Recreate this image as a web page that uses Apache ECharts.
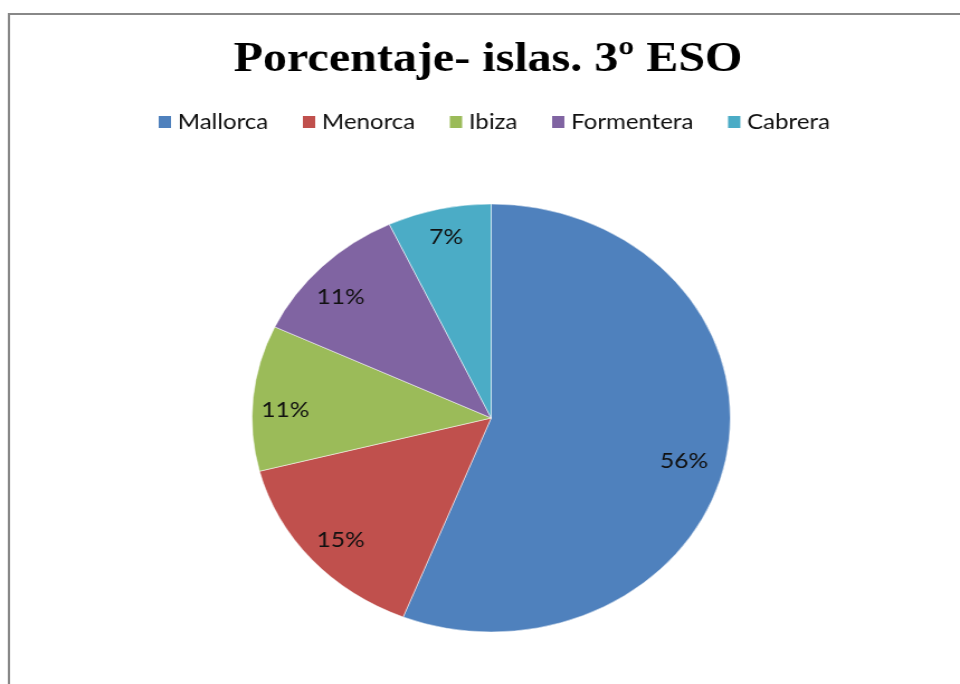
<!DOCTYPE html>
<html>
<head>
<meta charset="utf-8">
<script src="https://cdn.jsdelivr.net/npm/echarts@6/dist/echarts.min.js"></script>
<style>
html,body{margin:0;padding:0;background:#fff;overflow:hidden;width:960px;height:684px;}
#chart{width:859px;height:684px;transform:scaleX(1.1176);transform-origin:0 0;}
</style>
</head>
<body>
<div id="chart"></div>
<script>
const titleText = 'Porcentaje- islas. 3º ESO';
const categories = ['Mallorca', 'Menorca', 'Ibiza', 'Formentera', 'Cabrera'];
const values = [56, 15, 11, 11, 7];
const colors = ['#4F81BD', '#C0504D', '#9BBB59', '#8064A2', '#4BACC6'];

// small label nudges (unscaled px) to mimic the original label placement
const labelNudge = [[-9, 8], [4, 0], [0, 9], [-4, 10], [0, -1]];

const chart = echarts.init(document.getElementById('chart'), null, {renderer: 'canvas'});
const data = categories.map((c, i) => ({name: c, value: values[i]}));
const center = [439.5, 418];
const R = 214;

chart.setOption({
  animation: false,
  backgroundColor: '#fff',
  color: colors,
  title: {
    text: titleText,
    left: 204,
    top: 33,
    textStyle: {fontFamily: 'Liberation Serif', fontWeight: 'bold', fontSize: 43, color: '#000'}
  },
  legend: {
    data: categories,
    left: 137,
    top: 106,
    icon: 'rect',
    itemWidth: 11,
    itemHeight: 12,
    itemGap: 31,
    itemStyle: {borderWidth: 0},
    textStyle: {fontFamily: 'Lato', fontSize: 21.5, color: '#111', padding: [0, 0, 0, 1]}
  },
  graphic: [{
    type: 'rect',
    shape: {x: 8, y: 14, width: 2000, height: 2000},
    style: {fill: 'none', stroke: '#888', lineWidth: 2},
    silent: true
  }],
  series: [{
    type: 'pie',
    center: center,
    radius: R,
    startAngle: 90,
    clockwise: true,
    silent: true,
    data: data,
    itemStyle: {borderColor: 'rgba(255,255,255,0.5)', borderWidth: 1},
    label: {show: false},
    labelLine: {show: false}
  }, {
    type: 'pie',
    center: center,
    radius: 2 * 0.85 * R,
    startAngle: 90,
    clockwise: true,
    silent: true,
    data: data,
    itemStyle: {color: 'rgba(0,0,0,0)'},
    label: {
      show: true,
      position: 'inside',
      formatter: '{d}%',
      fontFamily: 'Lato',
      fontSize: 22,
      color: '#111'
    },
    labelLine: {show: false},
    labelLayout: function (p) {
      const n = labelNudge[p.dataIndex] || [0, 0];
      return {dx: n[0], dy: n[1]};
    }
  }]
});
</script>
</body>
</html>
